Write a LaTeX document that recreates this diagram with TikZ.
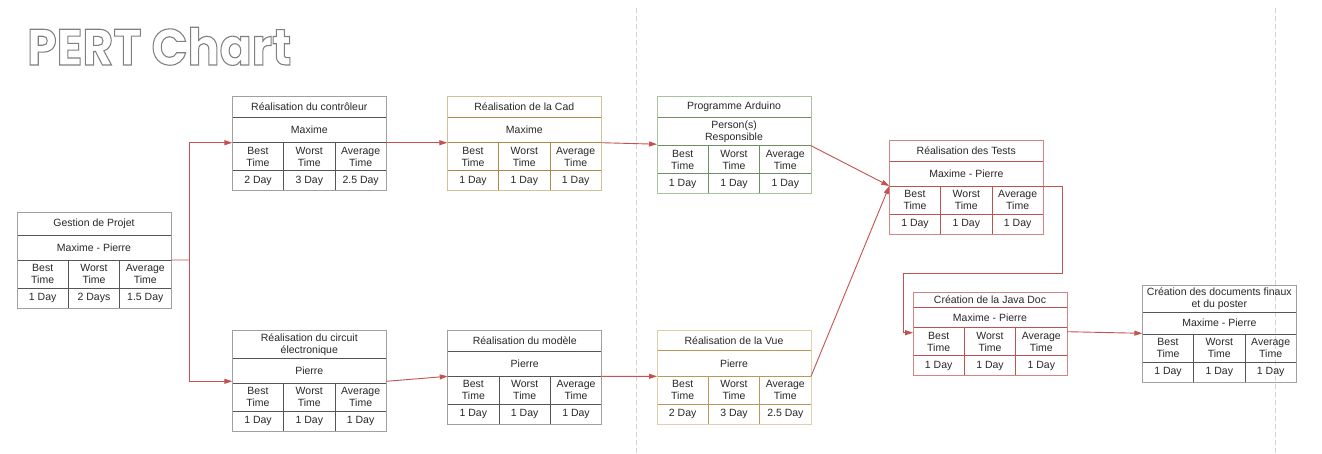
\documentclass[tikz,border=0pt]{standalone}
\usepackage{fontspec}
\setmainfont{Liberation Sans}
\newfontfamily\titlefont{Poppins}
\usetikzlibrary{arrows.meta,calc,fit}
\definecolor{connc}{RGB}{196,82,80}
\definecolor{grayO}{RGB}{160,160,160}
\definecolor{grayI}{RGB}{85,85,85}
\definecolor{tanO}{RGB}{210,192,150}
\definecolor{tanI}{RGB}{172,138,72}
\definecolor{grnO}{RGB}{172,192,162}
\definecolor{grnI}{RGB}{112,142,98}
\definecolor{vueO}{RGB}{222,208,172}
\definecolor{vueI}{RGB}{186,152,88}
\definecolor{redO}{RGB}{212,132,132}
\definecolor{redI}{RGB}{186,82,82}
\definecolor{txt}{RGB}{40,40,40}
\definecolor{dashc}{RGB}{212,212,212}
\tikzset{
  cellbase/.style={rectangle, inner sep=0pt, outer sep=0pt, align=center,
    font=\fontsize{10.5}{12}\selectfont, text=txt, line width=0.9pt},
  conn/.style={draw=connc, line width=0.9pt},
  arr/.style={-{Triangle[length=8pt,width=5pt]}},
  sepline/.style={draw=dashc, line width=0.8pt, dash pattern=on 5pt off 3pt}
}
\newcommand\outlinetext[1]{\special{pdf:literal direct 1 Tr 1.1 w 0.5 G}#1\special{pdf:literal direct 0 Tr}}
\def\pbsplit#1#2#3{\def\pbA{#1}\def\pbB{#2}\def\pbC{#3}}
\newcommand\pbox[9]{%
  \pbsplit#9%
  \node[cellbase, draw=#2I, minimum width=154pt, minimum height=#5pt, anchor=north west] (#1-t) at (#3,#4) {#7};
  \node[cellbase, draw=#2I, minimum width=154pt, minimum height=#6pt, anchor=north west] (#1-p) at (#1-t.south west) {#8};
  \node[cellbase, draw=#2I, minimum width=51.333pt, minimum height=28pt, anchor=north west] (#1-h1) at (#1-p.south west) {Best\\Time};
  \node[cellbase, draw=#2I, minimum width=51.333pt, minimum height=28pt, anchor=north west] (#1-h2) at (#1-h1.north east) {Worst\\Time};
  \node[cellbase, draw=#2I, minimum width=51.333pt, minimum height=28pt, anchor=north west] (#1-h3) at (#1-h2.north east) {Average\\Time};
  \node[cellbase, draw=#2I, minimum width=51.333pt, minimum height=20pt, anchor=north west] (#1-v1) at (#1-h1.south west) {\pbA};
  \node[cellbase, draw=#2I, minimum width=51.333pt, minimum height=20pt, anchor=north west] (#1-v2) at (#1-h2.south west) {\pbB};
  \node[cellbase, draw=#2I, minimum width=51.333pt, minimum height=20pt, anchor=north west] (#1-v3) at (#1-h3.south west) {\pbC};
  \node[draw=#2O, line width=0.9pt, inner sep=0pt, outer sep=0pt, fit=(#1-t)(#1-v3)] (#1) {};
}
\begin{document}
\begin{tikzpicture}[x=1pt,y=-1pt]
\fill[white] (0,0) rectangle (1322,453);
\useasboundingbox (0,0) rectangle (1322,453);
% separators
\draw[sepline] (636,8) -- (636,453);
\draw[sepline] (1275,8) -- (1275,453);
% title
\node[anchor=base west, inner sep=0pt] (title) at (27,65) {\scalebox{0.93}[1]{\titlefont\bfseries\fontsize{51}{51}\selectfont\outlinetext{PERT Chart}}};
% boxes
\pbox{gp}{gray}{17}{212.3}{22.7}{25}{Gestion de Projet}{Maxime - Pierre}{{1 Day}{2 Days}{1.5 Day}}
\pbox{ctrl}{gray}{232.3}{96.7}{20.6}{25.4}{Réalisation du contrôleur}{Maxime}{{2 Day}{3 Day}{2.5 Day}}
\pbox{circ}{gray}{232.3}{330.7}{28}{24.6}{Réalisation du circuit\\électronique}{Pierre}{{1 Day}{1 Day}{1 Day}}
\pbox{cad}{tan}{447.3}{96.7}{20.6}{25.4}{Réalisation de la Cad}{Maxime}{{1 Day}{1 Day}{1 Day}}
\pbox{ard}{grn}{657}{96.7}{21}{28}{Programme Arduino}{Person(s)\\Responsible}{{1 Day}{1 Day}{1 Day}}
\pbox{mod}{gray}{447.7}{330.7}{20.3}{25.3}{Réalisation du modèle}{Pierre}{{1 Day}{1 Day}{1 Day}}
\pbox{vue}{vue}{657}{330.3}{20.5}{25.5}{Réalisation de la Vue}{Pierre}{{2 Day}{3 Day}{2.5 Day}}
\pbox{tests}{red}{889.3}{140.7}{20.6}{24.7}{Réalisation des Tests}{Maxime - Pierre}{{1 Day}{1 Day}{1 Day}}
\pbox{java}{red}{913}{292}{15.3}{20.4}{Création de la Java Doc}{Maxime - Pierre}{{1 Day}{1 Day}{1 Day}}
\pbox{final}{gray}{1142.3}{285}{27}{22.3}{Création des documents finaux\\et du poster}{Maxime - Pierre}{{1 Day}{1 Day}{1 Day}}
% connectors
\coordinate (gsplit) at (189,260);
\draw[conn] (gp-p.south east) -- (gsplit);
\draw[conn,arr] (gsplit) |- (ctrl-p.south west);
\draw[conn,arr] (gsplit) |- ($(circ-p.south west)+(0,-2)$);
\draw[conn,arr] (ctrl-p.south east) -- (cad-p.south west);
\draw[conn,arr] ($(circ-p.south east)+(0,-2)$) -- (mod-p.south west);
\draw[conn,arr] (cad-p.south east) -- ($(ard-p.south west)+(0,-1.5)$);
\draw[conn,arr] (mod-p.south east) -- (vue-p.south west);
\draw[conn,arr] (ard-p.south east) -- (tests-p.south west);
\draw[conn,arr] (vue-p.south east) -- (tests-p.south west);
\coordinate (tj1) at (1062,273.3);
\coordinate (tj2) at (903.3,273.3);
\draw[conn,arr] (tests-p.south east) -| (tj1) -- (tj2) |- ($(java-p.south west)+(0,5)$);
\draw[conn,arr] ($(java-p.south east)+(0,4)$) -- ($(final-p.south west)+(0,-1)$);
\end{tikzpicture}
\end{document}
